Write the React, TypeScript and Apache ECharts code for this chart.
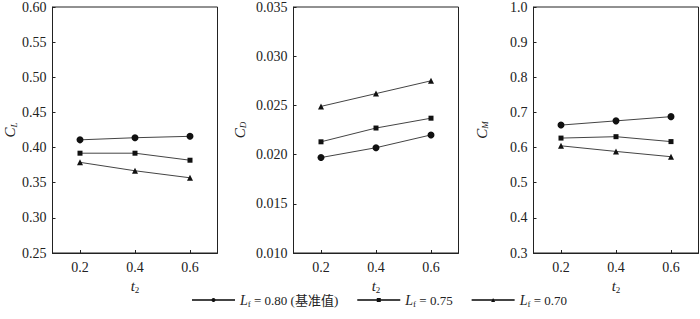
import React, { useEffect, useRef } from "react";
import * as echarts from "echarts";

const xValues = [0.2, 0.4, 0.6];
const xTicks = [0.2, 0.4, 0.6];

const seriesNames = ["0.80 (基准值)", "0.75", "0.70"];
const seriesSymbols = ["circle", "rect", "triangle"];
const seriesSymbolSizes = [7, 5, 6];

// C_L
const clBase = [0.411, 0.414, 0.416];
const cl075 = [0.392, 0.392, 0.382];
const cl070 = [0.379, 0.367, 0.357];
// C_D
const cdBase = [0.0197, 0.0207, 0.022];
const cd075 = [0.0213, 0.0227, 0.0237];
const cd070 = [0.0249, 0.0262, 0.0275];
// C_M
const cmBase = [0.664, 0.676, 0.688];
const cm075 = [0.627, 0.631, 0.617];
const cm070 = [0.605, 0.589, 0.574];

const panels = [
  { yName: "L", min: 0.25, max: 0.6, interval: 0.05, digits: 2, data: [clBase, cl075, cl070], nameGap: 33 },
  { yName: "D", min: 0.01, max: 0.035, interval: 0.005, digits: 3, data: [cdBase, cd075, cd070], nameGap: 46 },
  { yName: "M", min: 0.3, max: 1.0, interval: 0.1, digits: 1, data: [cmBase, cm075, cm070], nameGap: 44 },
];

const FONT = "'Liberation Serif', 'Times New Roman', serif";
const CJK = "'Liberation Serif', 'Noto Sans CJK SC', serif";
const INK = "#222";

export default function App() {
  const ref = useRef<HTMLDivElement>(null);
  useEffect(() => {
    if (!ref.current) return;
    const chart = echarts.init(ref.current, undefined, { renderer: "svg" });
    const lefts = [52.5, 293.5, 533.5];
    const grids = lefts.map((l) => ({
      left: l,
      top: 5,
      width: 165,
      height: 248,
      show: true,
      borderColor: INK,
      borderWidth: 1,
      backgroundColor: "transparent",
    }));
    const subRich = {
      i: { fontFamily: FONT, fontStyle: "italic", fontSize: 15, color: INK },
      s: { fontFamily: FONT, fontStyle: "italic", fontSize: 9, color: INK, padding: [7, 0, 0, 0] },
      n: { fontFamily: FONT, fontSize: 9, color: INK, padding: [7, 0, 0, 0] },
    };
    const xAxes = panels.map((_, k) => ({
      type: "value",
      gridIndex: k,
      min: 0.1,
      max: 0.7,
      name: "{i|t}{n|2}",
      nameLocation: "middle",
      nameGap: 22,
      nameTextStyle: { rich: subRich },
      axisLine: { show: true, lineStyle: { color: INK, width: 1 } },
      axisTick: { show: true, inside: true, length: 3, customValues: xTicks, lineStyle: { color: INK } },
      axisLabel: {
        customValues: xTicks,
        formatter: (v: number) => v.toFixed(1),
        fontFamily: FONT,
        fontSize: 14,
        color: INK,
        margin: 7,
      },
      splitLine: { show: false },
    }));
    const yAxes = panels.map((p, k) => ({
      type: "value",
      gridIndex: k,
      min: p.min,
      max: p.max,
      interval: p.interval,
      name: "{i|C}{s|" + p.yName + "}",
      nameLocation: "middle",
      nameRotate: 90,
      nameGap: p.nameGap,
      nameTextStyle: { rich: subRich },
      axisLine: { show: true, lineStyle: { color: INK, width: 1 } },
      axisTick: { show: true, inside: true, length: 3, lineStyle: { color: INK } },
      axisLabel: {
        formatter: (v: number) => v.toFixed(p.digits),
        fontFamily: FONT,
        fontSize: 14,
        color: INK,
        margin: 6,
      },
      splitLine: { show: false },
    }));
    const series: any[] = [];
    panels.forEach((p, k) => {
      p.data.forEach((vals, j) => {
        series.push({
          type: "line",
          name: seriesNames[j],
          xAxisIndex: k,
          yAxisIndex: k,
          data: xValues.map((x, i) => [x, vals[i]]),
          symbol: seriesSymbols[j],
          symbolSize: seriesSymbolSizes[j],
          showSymbol: true,
          itemStyle: { color: "#111" },
          lineStyle: { color: "#444", width: 1 },
        });
      });
    });
    chart.setOption({
      animation: false,
      backgroundColor: "#fff",
      grid: grids,
      xAxis: xAxes,
      yAxis: yAxes,
      series,
      legend: {
        left: 186,
        top: 288,
        itemWidth: 43,
        itemHeight: 5,
        itemGap: 18,
        data: seriesNames,
        formatter: (name: string) => "{i|L}{s|f}{t| = " + name + "}",
        textStyle: {
          rich: {
            i: { fontFamily: FONT, fontStyle: "italic", fontSize: 14, color: INK },
            s: { fontFamily: FONT, fontSize: 9, color: INK, padding: [7, 0, 0, 0] },
            t: { fontFamily: CJK, fontSize: 13, color: INK },
          },
        },
      },
    });
    return () => chart.dispose();
  }, []);
  return (
    <div
      ref={ref}
      style={{ position: "absolute", left: 0, top: 0, width: 700, height: 319, background: "#fff" }}
    />
  );
}
